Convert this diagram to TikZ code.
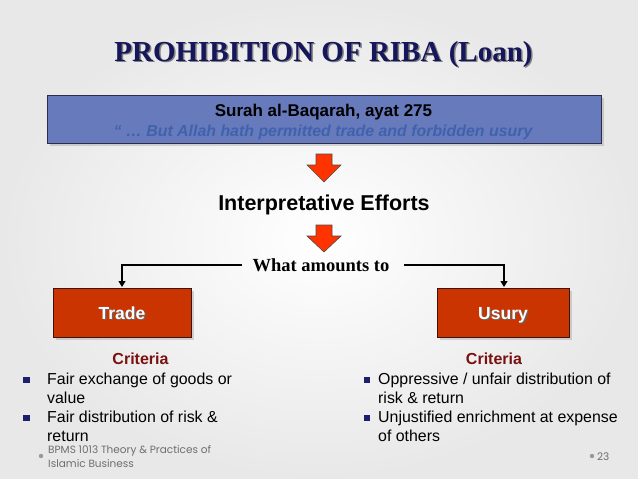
\documentclass[tikz,border=0pt]{standalone}
\usepackage{fontspec}
\setmainfont{Liberation Sans}
\newfontfamily\serifbold{Liberation Serif}
\newfontfamily\footfont{Poppins}
\usetikzlibrary{arrows.meta,shadows,calc}
\definecolor{titlenavy}{RGB}{22,22,90}
\definecolor{boxblue}{RGB}{102,122,188}
\definecolor{boxborder}{RGB}{45,45,75}
\definecolor{quoteblue}{RGB}{64,98,172}
\definecolor{boxred}{RGB}{202,52,0}
\definecolor{redborder}{RGB}{60,20,10}
\definecolor{arrred}{RGB}{255,51,0}
\definecolor{critred}{RGB}{122,16,16}
\definecolor{bulletnavy}{RGB}{30,30,110}
\definecolor{footgray}{RGB}{110,110,110}
\definecolor{bgedge}{RGB}{232,232,232}
\newcommand{\shadowtext}[3]{\makebox[0pt][l]{\hspace{#1}\raisebox{-#1}{\color{#2}#3}}#3}
\tikzset{
  bigbox/.style={draw=boxborder, line width=1pt, fill=boxblue, drop shadow={shadow xshift=2pt, shadow yshift=-2pt, opacity=0.3}},
  redbox/.style={draw=redborder, line width=1pt, fill=boxred, drop shadow={shadow xshift=2pt, shadow yshift=-2pt, opacity=0.3}},
  blockarrow/.style={draw=black!70, line width=0.6pt, fill=arrred},
  conn/.style={line width=1.1pt, -{Triangle[length=6pt,width=7pt]}},
  bodytext/.style={font=\fontsize{15.9}{19}\selectfont, anchor=base west, inner sep=0pt},
  bulletsq/.style={fill=bulletnavy, minimum size=6.5pt, inner sep=0pt},
  crit/.style={font=\fontsize{16}{18}\selectfont\bfseries, text=critred, anchor=base},
  boxlabel/.style={font=\fontsize{17.5}{20}\selectfont\bfseries, anchor=base, text=white},
  foot/.style={font=\footfont\fontsize{10.5}{12}\selectfont, text=footgray, anchor=base west, inner sep=0pt},
}
\begin{document}
\begin{tikzpicture}[x=1pt,y=-1pt]
\useasboundingbox (0,0) rectangle (638,479);
% background
\shade[inner color=white, outer color=bgedge] (0,0) rectangle (638,479);
% title
\node[font=\serifbold\fontsize{29}{34}\selectfont\bfseries, text=titlenavy, anchor=base] (title) at (323.5,61) {\shadowtext{1.5pt}{black!50}{PROHIBITION OF RIBA (Loan)}};
% blue box
\node[bigbox, minimum width=554pt, minimum height=48pt, anchor=north west, inner sep=0pt] (surah) at (47,95) {};
\node[font=\fontsize{17}{20}\selectfont\bfseries, anchor=base, inner sep=0pt] (surahtitle) at (323.5,116) {Surah al-Baqarah, ayat 275};
\node[font=\fontsize{15.9}{19}\selectfont\bfseries\itshape, text=quoteblue, anchor=base, inner sep=0pt] (quote) at (323,136) {“ … But Allah hath permitted trade and forbidden usury};
% block arrow 1
\draw[blockarrow] (316,154) -- (332,154) -- (332,165) -- (341,165) -- (324,182) -- (307,165) -- (316,165) -- cycle;
\node[font=\fontsize{21.5}{24}\selectfont\bfseries, anchor=base, inner sep=0pt] (interp) at (324,210) {Interpretative Efforts};
% block arrow 2
\draw[blockarrow] (316,225) -- (332,225) -- (332,236) -- (341,236) -- (324,252) -- (307,236) -- (316,236) -- cycle;
\node[font=\serifbold\fontsize{18.5}{22}\selectfont\bfseries, anchor=base, inner sep=0pt] (amounts) at (321,271) {What amounts to};
% red boxes
\node[redbox, minimum width=138pt, minimum height=49pt, anchor=north west, inner sep=0pt] (trade) at (53,288) {};
\node[boxlabel] (tradelbl) at (122,319) {\shadowtext{1.2pt}{black!60}{Trade}};
\node[redbox, minimum width=132pt, minimum height=49pt, anchor=north west, inner sep=0pt] (usury) at (437,288) {};
\node[boxlabel] (usurylbl) at (503,319) {\shadowtext{1.2pt}{black!60}{Usury}};
% connectors
\coordinate (lstart) at (242,265);
\coordinate (rstart) at (404,265);
\draw[conn] (lstart) -- (122,265) -- (122,287);
\draw[conn] (rstart) -- (504,265) -- (504,287);
% criteria left
\node[crit] (critL) at (140.5,364) {Criteria};
\node[bulletsq] (bL1) at (26.5,380) {};
\node[bodytext] (tL1) at (47,384) {Fair exchange of goods or};
\node[bodytext] (tL2) at (47,403) {value};
\node[bulletsq] (bL2) at (26.5,418) {};
\node[bodytext] (tL3) at (47,422) {Fair distribution of risk \&};
\node[bodytext] (tL4) at (47,441) {return};
% criteria right
\node[crit] (critR) at (494,364) {Criteria};
\node[bulletsq] (bR1) at (367,380) {};
\node[bodytext] (tR1) at (378,384) {Oppressive / unfair distribution of};
\node[bodytext] (tR2) at (378,403) {risk \& return};
\node[bulletsq] (bR2) at (367,418) {};
\node[bodytext] (tR3) at (378,422) {Unjustified enrichment at expense};
\node[bodytext] (tR4) at (378,441) {of others};
% footer
\fill[black!40] (41,456) circle (2.2pt);
\node[foot] (f1) at (48,453) {BPMS 1013 Theory \& Practices of};
\node[foot] (f2) at (48,467) {Islamic Business};
\fill[black!40] (592,456) circle (2.2pt);
\node[foot] (pg) at (597,460) {23};
\end{tikzpicture}
\end{document}
